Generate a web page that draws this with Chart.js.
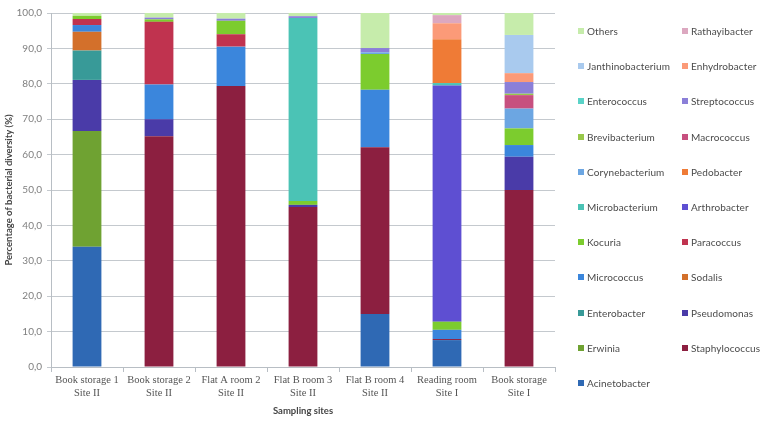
<!DOCTYPE html>
<html>
<head>
<meta charset="utf-8">
<script src="https://cdn.jsdelivr.net/npm/chart.js@4"></script>
<style>
  body { margin: 0; background: #fff; }
  #wrap { position: relative; width: 783px; height: 424px; }
  #legend { position: absolute; left: 0; top: 0; width: 783px; height: 424px; pointer-events: none; }
  .item { position: absolute; font: 10px Lato, sans-serif; color: #4a4a4a; line-height: 12px; white-space: nowrap; letter-spacing: 0.1px; }
  .item span.box { display: inline-block; width: 6px; height: 6px; margin-right: 3px; vertical-align: 1px; }
</style>
</head>
<body>
<div id="wrap">
  <canvas id="bacteriaChart" width="783" height="424"></canvas>
  <div id="legend"></div>
</div>
<script>
// Sampling sites (x axis)
const sites = [
  ['Book storage 1', 'Site II'],
  ['Book storage 2', 'Site II'],
  ['Flat A room 2', 'Site II'],
  ['Flat B room 3', 'Site II'],
  ['Flat B room 4', 'Site II'],
  ['Reading room', 'Site I'],
  ['Book storage', 'Site I']
];

// Percentage of each genus per site, bottom of the stack first
const acinetobacter     = [34.0, 0, 0, 0, 15.0, 7.6, 0];
const staphylococcus    = [0, 65.2, 79.4, 45.2, 47.1, 0.3, 50.0];
const erwinia           = [32.7, 0, 0, 0, 0, 0, 0];
const pseudomonas       = [14.4, 4.8, 0, 0.6, 0, 0, 9.4];
const enterobacter      = [8.3, 0, 0, 0, 0, 0, 0];
const sodalis           = [5.3, 0, 0, 0, 0, 0, 0];
const micrococcus       = [1.9, 9.8, 11.1, 0, 16.2, 2.6, 3.3];
const paracoccus        = [1.7, 17.7, 3.5, 0, 0, 0, 0];
const kocuria           = [0.9, 0.7, 3.8, 1.1, 10.1, 2.3, 4.7];
const arthrobacter      = [0, 0, 0, 0, 0, 66.7, 0];
const microbacterium    = [0, 0, 0, 51.7, 0, 0.7, 0];
const pedobacter        = [0, 0, 0, 0, 0, 12.4, 0];
const corynebacterium   = [0, 0, 0, 0, 0.5, 0, 5.6];
const macrococcus       = [0, 0, 0, 0, 0, 0, 3.8];
const brevibacterium    = [0, 0, 0, 0, 0, 0, 0.4];
const streptococcus     = [0, 0.5, 0.6, 0.5, 1.2, 0, 3.3];
const enterococcus      = [0, 0, 0, 0, 0, 0, 0];
const enhydrobacter     = [0, 0, 0, 0, 0, 4.5, 2.5];
const janthinobacterium = [0, 0, 0, 0, 0, 0, 10.8];
const rathayibacter     = [0, 0, 0, 0, 0, 2.3, 0];
const others            = [0.8, 1.3, 1.6, 0.9, 9.9, 0.6, 6.2];

const series = [
  ['Acinetobacter', acinetobacter],
  ['Staphylococcus', staphylococcus],
  ['Erwinia', erwinia],
  ['Pseudomonas', pseudomonas],
  ['Enterobacter', enterobacter],
  ['Sodalis', sodalis],
  ['Micrococcus', micrococcus],
  ['Paracoccus', paracoccus],
  ['Kocuria', kocuria],
  ['Arthrobacter', arthrobacter],
  ['Microbacterium', microbacterium],
  ['Pedobacter', pedobacter],
  ['Corynebacterium', corynebacterium],
  ['Macrococcus', macrococcus],
  ['Brevibacterium', brevibacterium],
  ['Streptococcus', streptococcus],
  ['Enterococcus', enterococcus],
  ['Enhydrobacter', enhydrobacter],
  ['Janthinobacterium', janthinobacterium],
  ['Rathayibacter', rathayibacter],
  ['Others', others]
];

// Same order as series
const colors = [
  '#2f69b4', '#8c1f40', '#6fa232', '#4a3ba8', '#389a98', '#d3702b', '#3b86dc',
  '#c0334f', '#7ccc2e', '#5e4fd2', '#4bc3b5', '#ef7b36', '#6ca6e2', '#c7507f',
  '#98c84a', '#8b7fd8', '#5ad3c8', '#fb9a78', '#a9caee', '#dca8c0', '#c6ecab'
];

// Excel-like legend: two columns, filled row by row, last series first
const htmlLegend = {
  id: 'htmlLegend',
  afterUpdate(chart) {
    const box = document.getElementById('legend');
    box.innerHTML = '';
    const ds = chart.data.datasets.slice().reverse();
    ds.forEach(function (d, i) {
      const row = Math.floor(i / 2);
      const col = i % 2;
      const el = document.createElement('div');
      el.className = 'item';
      el.style.left = (col ? 682 : 578) + 'px';
      el.style.top = (25 + row * 35.2) + 'px';
      el.innerHTML = '<span class="box" style="background:' + d.backgroundColor + '"></span>' + d.label;
      box.appendChild(el);
    });
  }
};

const ctx = document.getElementById('bacteriaChart').getContext('2d');
const chart = new Chart(ctx, {
  type: 'bar',
  data: {
    labels: sites,
    datasets: series.map(function (s, i) {
      return {
        label: s[0],
        data: s[1],
        backgroundColor: colors[i],
        borderWidth: 0,
        categoryPercentage: 1,
        barPercentage: 0.4
      };
    })
  },
  plugins: [htmlLegend],
  options: {
    responsive: false,
    animation: false,
    layout: { padding: { left: 3, right: 228, top: 13, bottom: 0 } },
    plugins: {
      legend: { display: false },
      tooltip: { enabled: false }
    },
    scales: {
      x: {
        stacked: true,
        offset: true,
        afterFit: function (s) { s.height = 57; },
        grid: { drawOnChartArea: false, drawTicks: true, tickLength: 5, offset: true, color: '#b8bec4' },
        border: { color: '#b8bec4' },
        ticks: {
          color: '#555',
          padding: 2,
          font: { family: '"Liberation Serif", serif', size: 10.5 },
          maxRotation: 0,
          autoSkip: false
        },
        title: {
          display: true,
          text: 'Sampling sites',
          color: '#444',
          padding: { top: 0, bottom: 7 },
          font: { family: 'Lato, sans-serif', size: 9.5, weight: 'bold' }
        }
      },
      y: {
        stacked: true,
        min: 0,
        max: 100,
        afterFit: function (s) { s.width = 48; },
        ticks: {
          stepSize: 10,
          color: '#7f7f7f',
          padding: 5,
          font: { family: 'Lato, sans-serif', size: 10 },
          callback: function (v) { return v.toFixed(1).replace('.', ','); }
        },
        grid: { color: '#c4c9ce', tickLength: 4 },
        border: { color: '#b8bec4' },
        title: {
          display: true,
          text: 'Percentage of bacterial diversity (%)',
          color: '#444',
          padding: { top: 0, bottom: 0 },
          font: { family: 'Lato, sans-serif', size: 9.5, weight: 'bold' }
        }
      }
    }
  }
});
</script>
</body>
</html>
